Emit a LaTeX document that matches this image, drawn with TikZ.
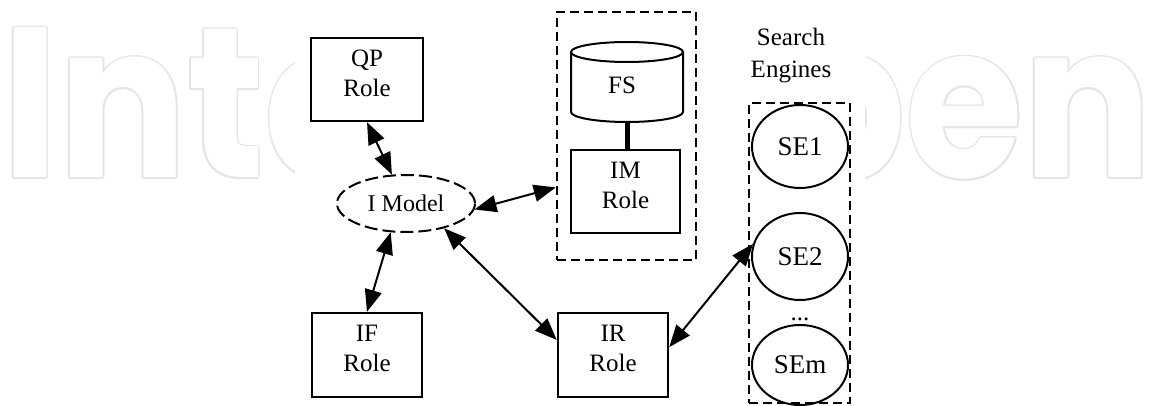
\documentclass[tikz,border=0pt]{standalone}
\usepackage{graphicx}
\usepackage{fontspec}
\setmainfont{Liberation Serif}
\newfontfamily\wmfont{Poppins}
\usetikzlibrary{arrows.meta,shapes.geometric}
\newcommand\wmword{\resizebox{1150pt}{158pt}{\wmfont\bfseries IntechOpen}}
\begin{document}
\begin{tikzpicture}[x=1pt,y=-1pt,
  rolebox/.style={draw, line width=2.5pt, minimum width=110pt, minimum height=84pt, inner sep=0pt},
  lbl/.style={align=center, font=\fontsize{25}{30}\selectfont, inner sep=0pt},
  seell/.style={draw, ellipse, line width=2pt, minimum width=96pt, inner sep=0pt, font=\fontsize{27}{30}\selectfont},
  grp/.style={draw, line width=2.5pt, dash pattern=on 9pt off 5pt, inner sep=0pt},
  biarrow/.style={line width=2pt, {Triangle[length=22pt,width=17pt]}-{Triangle[length=22pt,width=17pt]}},
  wmtext/.style={anchor=base west, inner sep=0pt}
]
\useasboundingbox (0,0) rectangle (1149,406);
\fill[white] (0,0) rectangle (1149,406);
% faint watermark
\foreach \a in {0,30,...,330}
  \node[wmtext, text=black!10, xshift={1.6*cos(\a)}, yshift={1.6*sin(\a)}] at (2,178) {\wmword};
\node[wmtext, text=white] (wm) at (2,178) {\wmword};
\fill[white] (295,0) rectangle (865,406);

% role boxes
\node[rolebox, minimum width=112pt, minimum height=83pt] (qp) at (367,79.5) {};
\node[lbl] (qpl) at ([yshift=6pt]qp.center) {QP\\Role};
\node[rolebox] (if) at (367,355) {};
\node[lbl] (ifl) at ([yshift=7pt]if.center) {IF\\Role};
\node[rolebox] (ir) at (613,355) {};
\node[lbl] (irl) at ([yshift=7pt]ir.center) {IR\\Role};

% I Model
\node[draw, ellipse, line width=2pt, dash pattern=on 13pt off 5pt, minimum width=138pt, minimum height=57pt, inner sep=0pt, font=\fontsize{24}{28}\selectfont] (imodel) at (406,203.5) {I Model};

% IM group
\node[grp, minimum width=139pt, minimum height=248pt] (imgroup) at (626.5,136) {};
\draw[line width=2pt, fill=white] (571,52) -- (571,112) arc[start angle=180, end angle=360, x radius=56pt, y radius=10pt] -- (683,52);
\draw[line width=2pt] (627,52) ellipse [x radius=56pt, y radius=10pt];
\node[lbl] (fs) at (622,85) {FS};
\coordinate (fsbot) at (627,122);
\node[rolebox, minimum width=109pt, minimum height=83pt] (im) at (625.5,191.5) {};
\node[lbl] (iml) at ([yshift=6pt]im.center) {IM\\Role};
\draw[line width=5pt] (fsbot) -- (fsbot |- im.north);

% search engines
\node[lbl, align=center, font=\fontsize{25}{32}\selectfont] (setitle) at (791,56) {Search\\Engines};
\node[grp, minimum width=101pt, minimum height=300pt] (segroup) at (799.5,253) {};
\node[seell, minimum height=83pt] (se1) at (800,146.5) {SE1};
\node[seell, minimum height=87pt] (se2) at (800,256.5) {SE2};
\node[lbl, anchor=base] (dots) at (800,320) {...};
\node[seell, minimum height=80pt] (sem) at (800,365) {SEm};

% connectors
\draw[biarrow] (qp.south) -- (imodel.116);
\draw[biarrow] (imodel.242) -- (if.north);
\draw[biarrow] (imodel.-33) -- (ir.165);
\draw[biarrow] (imodel.-5) -- (imgroup.216);
\draw[biarrow] (ir.8) -- (se2.165);
\end{tikzpicture}
\end{document}
